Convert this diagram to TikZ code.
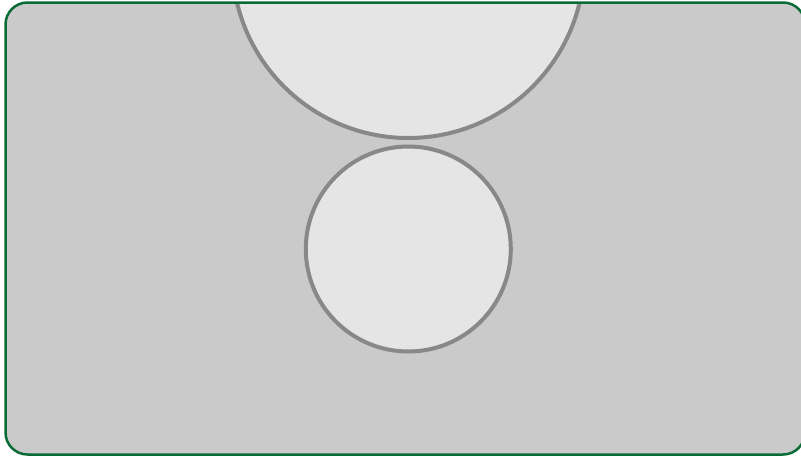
\documentclass[tikz,border=0pt]{standalone}
\definecolor{frame}{HTML}{0B6B36}
\definecolor{panel}{HTML}{CACACA}
\definecolor{disk}{HTML}{E5E5E5}
\definecolor{rim}{HTML}{888888}
\begin{document}
\begin{tikzpicture}[x=1pt,y=-1pt,
  panelbox/.style={fill=panel},
  framebox/.style={draw=frame,line width=2.5pt,rounded corners=22pt},
  ball/.style={circle,draw=rim,fill=disk,line width=4pt,inner sep=0pt}]
\useasboundingbox (0,0) rectangle (801,456);
\fill[white] (0,0) rectangle (801,456);
\begin{scope}
\clip[rounded corners=22pt] (5.5,2.5) rectangle (805,454.5);
\fill[panelbox] (0,0) rectangle (810,460);
\node[ball,minimum size=352pt] (big) at (408.3,-38) {};
\node[ball,minimum size=205pt] (small) at (408.3,249) {};
\end{scope}
\draw[framebox] (5.5,2.5) rectangle (805,454.5);
\end{tikzpicture}
\end{document}
